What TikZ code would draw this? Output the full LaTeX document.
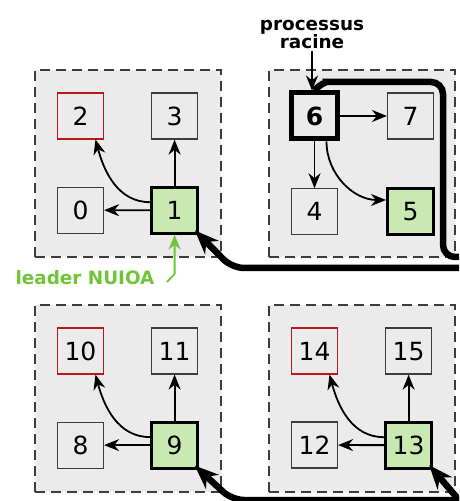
\documentclass[tikz,border=0pt]{standalone}
\usepackage{fontspec}
\setmainfont{DejaVu Sans}
\usetikzlibrary{matrix,positioning,arrows.meta}
\definecolor{fond}{RGB}{235,235,235}
\definecolor{bord}{RGB}{60,60,60}
\definecolor{rougebord}{RGB}{185,25,25}
\definecolor{vertclair}{RGB}{200,234,178}
\definecolor{vertfonce}{RGB}{112,196,58}
\tikzset{
zone/.style={
  draw=bord,
  fill=fond,
  dash pattern=on 5pt off 3pt,
  line width=1pt,
  minimum width=93pt,
  minimum height=93.5pt
  },
boite/.style={
  draw=bord,
  line width=0.6pt,
  minimum size=23pt,
  inner sep=0pt,
  font=\fontsize{12.5}{15}\selectfont
  },
rouge/.style={draw=rougebord},
chef/.style={draw=black,fill=vertclair,line width=1.5pt},
racinebox/.style={draw=black,line width=2.5pt,font=\fontsize{12.5}{15}\selectfont\bfseries},
grille/.style={
  matrix of nodes,
  nodes={boite},
  column sep=23pt,
  row sep=23pt
  },
fleche/.style={-{Stealth[length=7.5pt,width=6pt]},line width=0.9pt},
anneau/.style={
  -{Stealth[length=12pt,width=9.5pt]},
  line width=3.25pt,
  rounded corners=6pt,
  shorten >=-3pt
  },
etiquette/.style={font=\fontsize{9.2}{9}\selectfont\bfseries,align=center,inner sep=1pt}
}

\begin{document}
\begin{tikzpicture}[x=0.5pt,y=0.5pt]
\useasboundingbox (0,0) rectangle (459,-501);
\clip (0,0) rectangle (459,-501);

\node[zone] (zone1) at (128,-163.5) {};
\node[zone,right=23pt of zone1] (zone2) {};
\node[zone,below=23pt of zone1] (zone3) {};
\node[zone,below=23pt of zone2] (zone4) {};

\matrix[grille] at (zone1) (mat1)
{
|[rouge]| 2 & 3 \\
0 & |[chef]| 1 \\
};

\matrix[grille] at (zone2) (mat2)
{
|[racinebox]| 6 & 7 \\
4 & |[chef]| 5 \\
};

\matrix[grille] at (zone3) (mat3)
{
|[rouge]| 10 & 11 \\
8 & |[chef]| 9 \\
};

\matrix[grille] at (zone4) (mat4)
{
|[rouge]| 14 & 15 \\
12 & |[chef]| 13 \\
};

\foreach \m in {mat1,mat3,mat4}{
  \draw[fleche] (\m-2-2) -- (\m-2-1);
  \draw[fleche] (\m-2-2) -- (\m-1-2);
  \draw[fleche] ([yshift=4pt]\m-2-2.west) to[out=180,in=-75] ([xshift=7.5pt]\m-1-1.south);
}

\draw[fleche] (mat2-1-1) -- (mat2-1-2);
\draw[fleche] (mat2-1-1) -- (mat2-2-1);
\draw[fleche] ([xshift=6pt]mat2-1-1.south) to[out=-90,in=180] ([yshift=6pt]mat2-2-2.west);

\node[etiquette] (racine) at (312,-34) {processus\\racine};
\draw[fleche] (racine.south) -- (racine.south |- mat2-1-1.north);

\node[etiquette,text=vertfonce] (leader) at (85,-278) {leader NUIOA};
\draw[fleche,vertfonce] ([xshift=5pt,yshift=-2pt]leader.east)
  -- ([yshift=2pt]leader.east -| mat1-2-2.south) -- (mat1-2-2.south);

% anneau entre les groupes
\coordinate (horsA) at (520,-257);
\coordinate (horsB) at (520,-268);
\coordinate (horsC) at (520,-500);
\coordinate (horsD) at (476,-520);

\draw[anneau] (mat2-1-1.north) to[out=50,in=180] (338,-82) -- (443,-82)
  -- (443,-257) -- (horsA) -- (horsB) -- (232,-268) -- (mat1-2-2.south east);
\draw[anneau] (horsC) -- (232,-500) -- (mat3-2-2.south east);
\draw[anneau] (horsD) -- (mat4-2-2.south east);
\end{tikzpicture}
\end{document}
